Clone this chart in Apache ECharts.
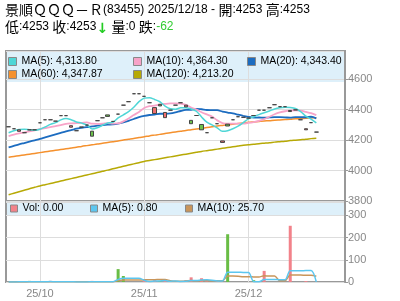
<!DOCTYPE html>
<html><head><meta charset="utf-8">
<script src="https://cdn.jsdelivr.net/npm/echarts@6/dist/echarts.min.js"></script>
<style>html,body{margin:0;padding:0;background:#fff}#c{width:400px;height:301px}</style>
</head><body><div id="c"></div>
<script>
// ---- data ----
const dates = [
"2025-09-23","2025-09-24","2025-09-25","2025-09-26","2025-09-29","2025-09-30",
"2025-10-02","2025-10-03","2025-10-06","2025-10-08","2025-10-09","2025-10-10","2025-10-13","2025-10-14","2025-10-15","2025-10-16","2025-10-17","2025-10-20","2025-10-21","2025-10-22","2025-10-23","2025-10-24","2025-10-27","2025-10-28","2025-10-30","2025-10-31",
"2025-11-03","2025-11-04","2025-11-05","2025-11-06","2025-11-07","2025-11-10","2025-11-11","2025-11-12","2025-11-13","2025-11-14","2025-11-17","2025-11-18","2025-11-19","2025-11-20","2025-11-21","2025-11-24","2025-11-25","2025-11-26","2025-11-27","2025-11-28",
"2025-12-01","2025-12-02","2025-12-03","2025-12-04","2025-12-05","2025-12-08","2025-12-09","2025-12-10","2025-12-11","2025-12-12","2025-12-15","2025-12-16","2025-12-17","2025-12-18",
"2025-12-19","2025-12-22","2025-12-23","2025-12-24","2025-12-29"];
const opens = [4288,4275,4268,4249,4268,4268,4314,4334,4334,4325,4361,4361,4295,4262,4286,4299,4226,4328,4347,4356,4323,4371,4430,4453,4505,4505,4488,4446,4414,4425,4382,4397,4430,4446,4430,4308,4362,4268,4249,4347,4308,4195,4293,4334,4354,4350,4345,4362,4397,4397,4413,4433,4420,4420,4395,4399,4334,4275,4315,4253];
const closes = [4288,4275,4258,4249,4268,4268,4314,4334,4334,4325,4361,4361,4285,4262,4286,4299,4259,4328,4347,4366,4323,4371,4430,4453,4505,4505,4488,4446,4375,4435,4348,4397,4430,4446,4419,4330,4362,4303,4249,4347,4308,4185,4305,4334,4354,4350,4345,4362,4397,4397,4413,4433,4420,4420,4388,4399,4334,4268,4315,4253];
const ma5 = [4249,4262,4270,4272,4268.4,4264.4,4272.2,4286.6,4303.6,4315,4333.6,4343,4334.2,4319.8,4312,4299.6,4273.4,4281,4298,4313,4317.8,4346,4366.4,4387.6,4416.4,4452.8,4476.2,4479.4,4467.4,4452.4,4424.2,4406,4402.8,4413.4,4412.2,4405,4390,4352,4318,4300,4280,4258,4262,4275,4292,4315,4340,4354,4368,4380,4392,4405,4413,4417,4415,4408,4388,4358,4338,4313.8];
const ma10 = [4227,4236,4244,4251,4258,4265,4272,4279,4286,4291.7,4299,4307.6,4310.4,4311.7,4313.5,4316.6,4308.2,4307.6,4308.9,4312.5,4308.7,4309.7,4323.7,4342.8,4364.7,4385.3,4411.1,4422.9,4427.5,4434.4,4438.5,4441.1,4441.1,4440.4,4432.3,4413.6,4401,4383.4,4369,4355,4330,4312,4308,4308,4308,4308,4313,4319,4326,4338,4354,4370,4382,4390,4394,4396,4394,4386,4377,4364.3];
const ma20 = [4152,4162,4172,4181,4190,4199,4208,4218,4228,4238,4248,4258,4266,4275,4281,4286,4290,4295,4299,4302.1,4303.9,4308.7,4317.1,4327.3,4339.1,4351,4359.7,4365.3,4368.2,4373.5,4373.6,4375.4,4382.4,4391.6,4398.5,4399.5,4406.1,4403.2,4398.3,4397.6,4396.8,4387.8,4381.2,4375.3,4367.7,4360,4352.8,4348.6,4348.8,4347.2,4349.6,4351.4,4350.9,4349.6,4347.8,4351.9,4350.5,4350.4,4353.7,4343.4];
const ma60 = [4088,4093,4098,4103,4108,4113,4118,4123,4128,4133,4138,4143,4148,4153,4159,4164,4169,4174,4180,4185,4190,4195,4201,4206,4211,4217,4222,4228,4233,4238,4244,4249,4254,4259,4264,4268,4273,4278,4283,4288,4293,4297,4301,4305,4309,4313,4317,4320,4323,4326,4328,4331,4333,4335,4337,4340,4342,4344,4346,4347.87];
const ma120 = [3841,3851,3861,3871,3881,3890,3899,3907,3915,3923,3931,3939,3947,3955,3963,3971,3979,3987,3995,4003,4012,4020,4028,4036,4044,4052,4060,4066,4072,4078,4084,4090,4096,4102,4108,4114,4120,4126,4131,4136,4141,4146,4151,4156,4161,4166,4170,4173,4177,4180,4183,4187,4190,4193,4197,4200,4203,4206,4210,4213.2];
const volume = [0,0,3,0,5,0,0,0,5,0,0,0,2,0,0,0,5,0,0,0,0,58,27,0,0,0,12,0,8,5,6,0,3,0,8,21,0,17,3,0,4,0,215,0,0,0,0,8,0,50,0,0,0,0,253,0,0,4,0,0];
const volMa5 = [0,0,0.6,0.6,1.6,1.6,1.6,1.0,2.0,1.0,1.0,1.0,1.4,0.4,0.4,0.4,1.4,1.0,1.0,1.0,1.0,11.6,17,17,17,17,7.8,2.4,4.0,5.0,6.2,3.8,4.4,2.8,3.4,6.4,6.4,9.2,9.8,8.2,4.8,4.8,44.4,43.8,43.8,43,43,1.6,1.6,11.6,11.6,11.6,10,10,50.6,50.6,50.6,51.4,51.4,0.8];
const volMa10 = [0,0,0.3,0.3,0.8,0.8,0.8,0.8,1.3,1.3,1.3,1.3,1.2,1.2,0.7,0.7,1.2,1.2,0.7,0.7,0.7,6.5,9.0,9.0,9.0,9.0,9.7,9.7,10.5,11.0,11.6,5.8,3.4,3.4,4.2,6.3,5.1,6.8,6.3,5.8,5.6,5.6,26.8,26.8,26.0,23.9,23.9,23.0,22.7,27.7,27.3,27.3,5.8,5.8,31.1,31.1,31.1,30.7,30.7,25.7];
const priceTicks = [3800, 4000, 4200, 4400, 4600];
const volTicks = [0, 100, 200, 300];

// ---- styles ----
const C = {ma5:'#4fd6d6', ma10:'#f7a3c8', ma20:'#1c6cc0', ma60:'#f5912e', ma120:'#b7a905',
  vol:'#f2828a', volUp:'#69bd45', vma5:'#5cc6ef', vma10:'#c9955a', grid:'#dddddd', frame:'#999999', label:'#888888'};
const LATIN = 'Liberation Sans, Arial, sans-serif';
const CJK = 'Noto Sans CJK TC, sans-serif';

const n = closes.length;
const last = n - 1;
const fmt = v => Number(v).toLocaleString('en-US', {minimumFractionDigits:2, maximumFractionDigits:2});
const candleData = opens.map((o, i) => [o, closes[i], Math.min(o, closes[i]), Math.max(o, closes[i])]);
const volData = volume.map((v, i) => ({value: v, itemStyle: {color: (i > 0 && closes[i] > closes[i-1]) ? C.volUp : C.vol}}));
const isMonthStart = (idx) => idx > 0 && dates[idx].slice(0, 7) !== dates[idx - 1].slice(0, 7);

const lastVals = {'MA(5)': ma5[last], 'MA(10)': ma10[last], 'MA(20)': ma20[last], 'MA(60)': ma60[last], 'MA(120)': ma120[last],
  'Vol': volume[last], 'VMA(5)': volMa5[last], 'VMA(10)': volMa10[last]};
function lg(name, left, top, size) {
  return {data: [name], left, top, padding: 0, itemGap: 0, icon: 'rect', itemWidth: size, itemHeight: size,
    selectedMode: false, itemStyle: {borderColor: '#888', borderWidth: 1},
    textStyle: {fontSize: 10.5, color: '#000', fontFamily: LATIN},
    formatter: nm => nm.replace(/^V(?=MA)/, '') + ': ' + fmt(lastVals[nm])};
}
const chg = closes[last] - closes[last - 1];
const header = '{c|景順ＱＱＱ－Ｒ}{t|(83455) ' + dates[last].replace(/-/g, '/') + ' - }{c|開}{t|:' + opens[last] + ' }{c|高}{t|:' + Math.max(opens[last], closes[last]) + '}\n' +
  '{c|低}{t|:' + Math.min(opens[last], closes[last]) + ' }{c|收}{t|:' + closes[last] + '}{a|' + (chg < 0 ? '↓' : '↑') + '}{t| }{c|量}{t|:' + volume[last] + ' }{c|' + (chg < 0 ? '跌' : '升') + '}{t|:}{g|' + chg + '}';

const chart = echarts.init(document.getElementById('c'), null, {renderer: 'canvas'});
const lineS = (name, data, color, w, xi, yi) => ({name, type: 'line', data, xAxisIndex: xi, yAxisIndex: yi, showSymbol: false, symbol: 'none',
  smooth: 0.3, lineStyle: {color, width: w}, itemStyle: {color}, z: 3, silent: true});
const yLabel = {showMaxLabel: false, color: C.label, fontSize: 11, fontFamily: LATIN, margin: 3, formatter: v => String(v)};

chart.setOption({
  animation: false,
  grid: [
    {left: 6, right: 55, top: 51, height: 150, show: true, borderColor: C.frame, borderWidth: 2, backgroundColor: '#fff'},
    {left: 6, right: 55, top: 202, height: 80, show: true, borderColor: C.frame, borderWidth: 2}
  ],
  xAxis: [0, 1].map(g => ({type: 'category', gridIndex: g, data: dates, boundaryGap: true,
    axisLine: {show: false}, axisTick: {show: false},
    splitLine: {show: true, interval: isMonthStart, alignWithLabel: true, lineStyle: {color: C.grid, width: 1}},
    axisLabel: {show: g === 1, interval: isMonthStart, color: C.label, fontSize: 11, fontFamily: LATIN, margin: 6,
      formatter: v => v.slice(2, 4) + '/' + v.slice(5, 7)}})),
  yAxis: [
    {type: 'value', gridIndex: 0, position: 'right', min: priceTicks[0], max: 4786, interval: priceTicks[1] - priceTicks[0],
      axisLine: {show: true, lineStyle: {color: C.frame, width: 2}}, axisTick: {show: true, length: 3, lineStyle: {color: C.frame}},
      splitLine: {lineStyle: {color: C.grid}}, axisLabel: yLabel},
    {type: 'value', gridIndex: 1, position: 'right', min: volTicks[0], max: 360, interval: volTicks[1] - volTicks[0],
      axisLine: {show: true, lineStyle: {color: C.frame, width: 2}}, axisTick: {show: true, length: 3, lineStyle: {color: C.frame}},
      splitLine: {lineStyle: {color: C.grid}}, axisLabel: yLabel}
  ],
  graphic: [
    {type: 'rect', shape: {x: 7, y: 52, width: 337, height: 30}, style: {fill: '#def0fa'}, z: 0, silent: true},
    {type: 'rect', shape: {x: 7, y: 203, width: 337, height: 12}, style: {fill: '#def0fa'}, z: 0, silent: true},
    {type: 'text', left: 5, top: 3, silent: true, style: {text: header, rich: {
      c: {fontFamily: CJK, fontSize: 14, lineHeight: 17, fill: '#000'},
      t: {fontFamily: LATIN, fontSize: 12, lineHeight: 17, fill: '#000'},
      a: {fontFamily: 'DejaVu Sans', fontSize: 14, lineHeight: 17, fill: '#22cc22', fontWeight: 'bold', padding: [4, 0, 0, 0]},
      g: {fontFamily: LATIN, fontSize: 12, lineHeight: 17, fill: '#33cc33'}}}}
  ],
  legend: [
    lg('MA(5)', 8, 56, 8), lg('MA(10)', 133, 56, 8), lg('MA(20)', 247, 56, 8),
    lg('MA(60)', 8, 69, 8), lg('MA(120)', 133, 69, 8),
    lg('Vol', 10, 203, 7), lg('VMA(5)', 90, 203, 7), lg('VMA(10)', 185, 203, 7)
  ],
  series: [
    {name: 'K', type: 'candlestick', data: candleData, xAxisIndex: 0, yAxisIndex: 0, barWidth: 4, z: 4, silent: true,
      itemStyle: {color: '#6cc24a', color0: '#f07070', borderColor: '#444', borderColor0: '#444', borderColorDoji: '#444', borderWidth: 1}},
    lineS('MA(120)', ma120, C.ma120, 1.5, 0, 0),
    lineS('MA(60)', ma60, C.ma60, 1.5, 0, 0),
    lineS('MA(20)', ma20, C.ma20, 1.8, 0, 0),
    lineS('MA(10)', ma10, C.ma10, 1.8, 0, 0),
    lineS('MA(5)', ma5, C.ma5, 1.5, 0, 0),
    {name: 'Vol', type: 'bar', data: volData, xAxisIndex: 1, yAxisIndex: 1, barWidth: 3, itemStyle: {color: C.vol}, z: 2, silent: true},
    lineS('VMA(10)', volMa10, C.vma10, 1.5, 1, 1),
    lineS('VMA(5)', volMa5, C.vma5, 1.5, 1, 1)
  ]
});
</script></body></html>
